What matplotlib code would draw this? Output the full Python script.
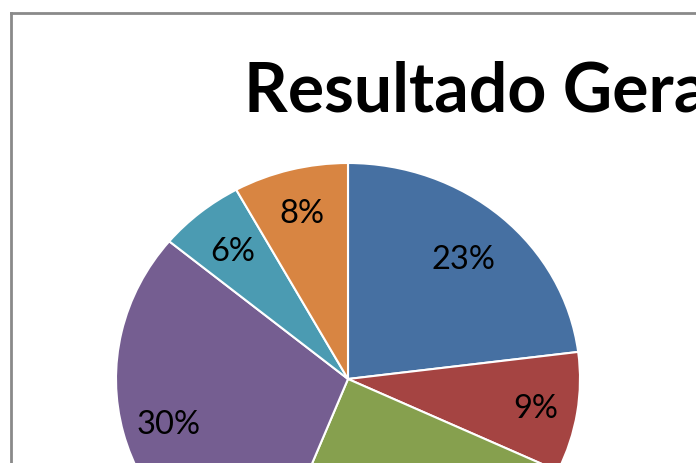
import matplotlib
matplotlib.use("Agg")
import matplotlib.pyplot as plt
import numpy as np
from matplotlib.lines import Line2D

# ---- data ----
title = "Resultado Geral"
categories = ["A", "B", "C", "D", "E", "F"]
values = [23, 9, 24, 30, 6, 8]
colors = ["#4670A2", "#A54442", "#86A04E", "#755E91", "#4B9BB2", "#D88542"]

# label distance from centre (fraction of radius), per slice
label_r = [0.75, 0.82, 0.78, 0.80, 0.78, 0.80]

W, H = 696, 463
fig = plt.figure(figsize=(W / 100, H / 100), dpi=100)
fig.patch.set_facecolor("white")

# chart frame (cut off at right and bottom)
fx, fy = 10.5 / W, 1 - 12.5 / H
fig.add_artist(Line2D([fx, fx], [0, fy], color="#8a8a8a", lw=2.0, transform=fig.transFigure))
fig.add_artist(Line2D([fx, 1], [fy, fy], color="#8a8a8a", lw=2.0, transform=fig.transFigure))

# title
fig.text(244 / W, 1 - 112 / H, title, ha="left", va="baseline",
         fontsize=49, fontweight="bold", family=["Lato", "DejaVu Sans"], color="black")

# pie (slightly elliptical as in reference)
cx, cy, rx, ry = 348, 379, 232, 216
ax = fig.add_axes([(cx - rx) / W, (H - (cy + ry)) / H, 2 * rx / W, 2 * ry / H])
wedges, texts = ax.pie(
    values, colors=colors, startangle=90, counterclock=False, radius=1,
    wedgeprops=dict(edgecolor="white", linewidth=1.5),
)
total = sum(values)
for w, v, r in zip(wedges, values, label_r):
    mid = np.deg2rad((w.theta1 + w.theta2) / 2)
    x, y = r * np.cos(mid), r * np.sin(mid)
    ax.text(x, y - 11.7 / ry, f"{100 * v / total:.0f}%", ha="center", va="baseline",
            fontsize=23.5, family=["Lato", "DejaVu Sans"], color="black")
ax.set_aspect("auto")
ax.set_xlim(-1, 1)
ax.set_ylim(-1, 1)
ax.axis("off")

fig.savefig("out.png", dpi=100, facecolor="white")
